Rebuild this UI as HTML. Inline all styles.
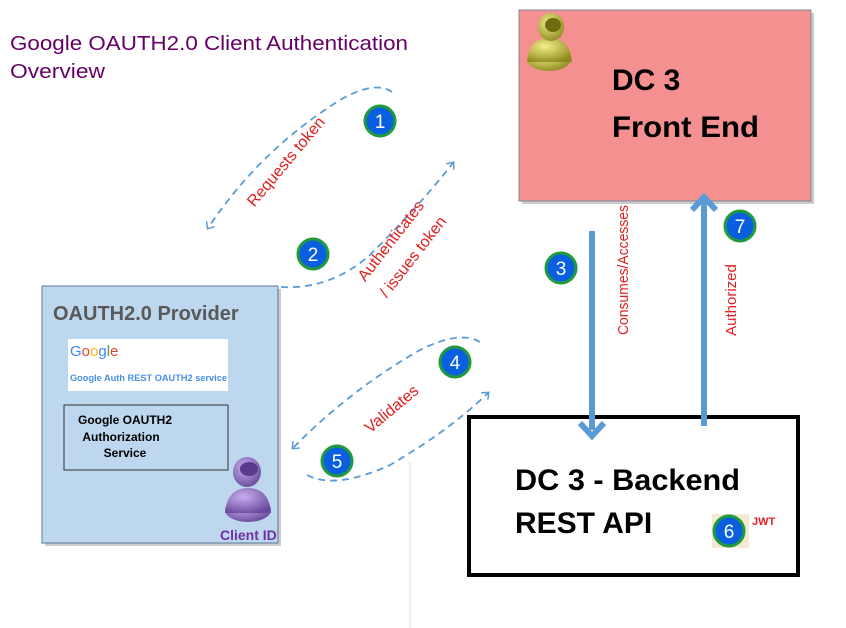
<!DOCTYPE html>
<html><head><meta charset="utf-8"><style>
html,body{margin:0;padding:0;background:#fff;}
svg{display:block;font-family:"Liberation Sans",sans-serif;}
</style></head><body>
<svg width="846" height="628" viewBox="0 0 846 628" xmlns="http://www.w3.org/2000/svg">
<defs>
<marker id="ah" markerWidth="10" markerHeight="10" refX="5" refY="5" orient="auto" markerUnits="userSpaceOnUse">
<path d="M0,0 L6,5 L0,10" fill="none" stroke="#5b9bd5" stroke-width="1.5"/>
</marker>
<radialGradient id="gy" cx="40%" cy="35%" r="70%"><stop offset="0" stop-color="#f4f08a"/><stop offset="1" stop-color="#8e8a1e"/></radialGradient>
<radialGradient id="gp" cx="40%" cy="35%" r="70%"><stop offset="0" stop-color="#c9aef0"/><stop offset="1" stop-color="#6a4a9c"/></radialGradient>
</defs>

<text x="10" y="50" font-size="20" fill="#660066" textLength="398" lengthAdjust="spacingAndGlyphs">Google OAUTH2.0 Client Authentication</text>
<text x="10" y="78" font-size="20" fill="#660066" textLength="95" lengthAdjust="spacingAndGlyphs">Overview</text>

<!-- Front end -->
<rect x="522" y="13" width="292" height="191" fill="#ccc"/>
<rect x="519" y="10" width="292" height="191" fill="#f4908f" stroke="#7a8aa0" stroke-width="1"/>
<ellipse cx="549" cy="59" rx="22" ry="12" fill="url(#gy)"/>
<path d="M527,62 Q529,38 549,38 Q570,38 572,62 Z" fill="url(#gy)"/>
<ellipse cx="551" cy="27" rx="13" ry="14" fill="url(#gy)"/>
<ellipse cx="553" cy="25" rx="8" ry="7" fill="#6e6a12"/>
<text x="612" y="90" font-size="30" font-weight="bold" fill="#000">DC 3</text>
<text x="612" y="137" font-size="30" font-weight="bold" fill="#000" textLength="147" lengthAdjust="spacingAndGlyphs">Front End</text>

<!-- Backend -->
<rect x="469" y="417" width="329" height="158" fill="#fff" stroke="#000" stroke-width="4"/>
<text x="515" y="490" font-size="30" font-weight="bold" fill="#000" textLength="225" lengthAdjust="spacingAndGlyphs">DC 3 - Backend</text>
<text x="515" y="533" font-size="30" font-weight="bold" fill="#000">REST API</text>
<rect x="712" y="514" width="37" height="34" fill="#f3ead0"/>
<circle cx="729" cy="531" r="15" fill="#0a5fe0" stroke="#1f9a3c" stroke-width="3"/>
<text x="729" y="538" font-size="19" fill="#fff" text-anchor="middle">6</text>
<text x="752" y="525" font-size="11" font-weight="bold" fill="#e02020">JWT</text>

<!-- Vertical arrows -->
<line x1="592" y1="231" x2="592" y2="430" stroke="#5b9bd5" stroke-width="6"/>
<path d="M580,423 L592,436 L604,423" fill="none" stroke="#5b9bd5" stroke-width="6"/>
<line x1="704" y1="426" x2="704" y2="200" stroke="#5b9bd5" stroke-width="6"/>
<path d="M692,210 L704,197 L716,210" fill="none" stroke="#5b9bd5" stroke-width="6"/>
<text transform="translate(628,270) rotate(-90)" font-size="15" fill="#e02020" text-anchor="middle" textLength="130" lengthAdjust="spacingAndGlyphs">Consumes/Accesses</text>
<text transform="translate(736,300) rotate(-90)" font-size="15" fill="#e02020" text-anchor="middle">Authorized</text>

<!-- Provider -->
<rect x="45" y="289" width="236" height="257" fill="#ccc"/>
<rect x="42" y="286" width="236" height="257" fill="#bdd7ee" stroke="#5a7a9c" stroke-width="1"/>
<text x="53" y="320" font-size="20" font-weight="bold" fill="#595959">OAUTH2.0 Provider</text>
<rect x="68" y="339" width="160" height="52" fill="#fff"/>
<text x="70" y="356" font-size="15" fill="#4285f4">G<tspan fill="#ea4335">o</tspan><tspan fill="#fbbc05">o</tspan>g<tspan fill="#34a853">l</tspan><tspan fill="#ea4335">e</tspan></text>
<text x="70" y="381" font-size="9.5" font-weight="bold" fill="#4a90e2" textLength="157" lengthAdjust="spacingAndGlyphs">Google Auth REST OAUTH2 service</text>
<rect x="64" y="405" width="164" height="65" fill="none" stroke="#333" stroke-width="1"/>
<text x="125" y="424" font-size="12" font-weight="bold" fill="#000" text-anchor="middle">Google OAUTH2</text>
<text x="121" y="441" font-size="12" font-weight="bold" fill="#000" text-anchor="middle">Authorization</text>
<text x="125" y="457" font-size="12" font-weight="bold" fill="#000" text-anchor="middle">Service</text>
<ellipse cx="248" cy="510" rx="23" ry="12" fill="url(#gp)"/>
<path d="M225,513 Q227,488 248,488 Q269,488 271,513 Z" fill="url(#gp)"/>
<ellipse cx="247" cy="472" rx="14" ry="15" fill="url(#gp)"/>
<ellipse cx="249" cy="469" rx="9" ry="7" fill="#5a3a8c"/>
<text x="220" y="540" font-size="14" font-weight="bold" fill="#7030a0">Client ID</text>

<!-- Dashed curves -->
<g fill="none" stroke="#5b9bd5" stroke-width="1.8" stroke-dasharray="7,5">
<path d="M392,92 Q375,80 340,100 Q260,150 208,228" marker-end="url(#ah)"/>
<path d="M281,287 Q330,290 370,255 Q420,205 453,163" marker-end="url(#ah)"/>
<path d="M480,342 Q460,330 420,350 Q350,390 293,448" marker-end="url(#ah)"/>
<path d="M307,475 Q335,490 390,465 Q450,430 488,393" marker-end="url(#ah)"/>
</g>
<line x1="410" y1="462" x2="410" y2="628" stroke="#e8e8e8" stroke-width="1.5"/>

<text transform="translate(290,165) rotate(-50)" font-size="16" fill="#e02020" text-anchor="middle">Requests token</text>
<text transform="translate(395,244) rotate(-52)" font-size="16" fill="#e02020" text-anchor="middle">Authenticates</text>
<text transform="translate(417,260) rotate(-52)" font-size="16" fill="#e02020" text-anchor="middle">/ issues token</text>
<text transform="translate(395,413) rotate(-40)" font-size="16" fill="#e02020" text-anchor="middle">Validates</text>

<!-- Badges -->
<g font-size="19" fill="#fff" text-anchor="middle">
<circle cx="380" cy="121" r="15" fill="#0a5fe0" stroke="#1f9a3c" stroke-width="3"/><text x="380" y="128">1</text>
<circle cx="313" cy="254" r="15" fill="#0a5fe0" stroke="#1f9a3c" stroke-width="3"/><text x="313" y="261">2</text>
<circle cx="561" cy="268" r="15" fill="#0a5fe0" stroke="#1f9a3c" stroke-width="3"/><text x="561" y="275">3</text>
<circle cx="455" cy="362" r="15" fill="#0a5fe0" stroke="#1f9a3c" stroke-width="3"/><text x="455" y="369">4</text>
<circle cx="337" cy="461" r="15" fill="#0a5fe0" stroke="#1f9a3c" stroke-width="3"/><text x="337" y="468">5</text>
<circle cx="740" cy="226" r="15" fill="#0a5fe0" stroke="#1f9a3c" stroke-width="3"/><text x="740" y="233">7</text>
</g>
</svg>
</body></html>
